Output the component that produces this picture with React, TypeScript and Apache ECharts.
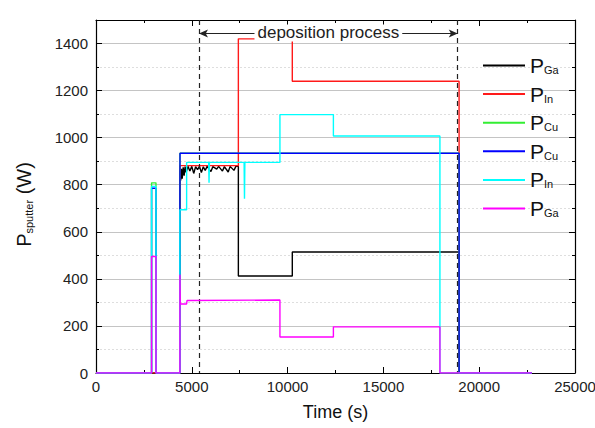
import React, { useEffect, useRef } from 'react';
import * as echarts from 'echarts';

const FONT = '"Liberation Sans", Arial, sans-serif';

// [time (s), power (W)]
const pGaBlack: number[][] = [
  [0, 0], [4380, 0], [4380, 860], [4420, 818], [4460, 868], [4500, 826], [4550, 874], [4600, 838],
  [4650, 877], [4700, 852], [4800, 878], [4900, 858], [5000, 878], [5100, 848], [5200, 877],
  [5300, 864], [5400, 878], [5500, 852], [5600, 876], [5700, 861], [5800, 878], [6000, 856],
  [6100, 877], [6300, 866], [6400, 878], [6600, 858], [6700, 877], [6900, 854], [7000, 878],
  [7200, 861], [7300, 878], [7430, 878], [7430, 412], [10245, 412], [10245, 514],
  [18950, 514], [18950, 0], [22750, 0],
];
const pInRed: number[][] = [
  [0, 0], [4380, 0], [4380, 881], [7430, 881], [7430, 1420], [10245, 1420], [10245, 1240],
  [18950, 1240], [18950, 0], [22750, 0],
];
const pCuGreen: number[][] = [
  [0, 0], [2900, 0], [2900, 808], [3130, 808], [3130, 0], [4380, 0], [4380, 934],
  [18950, 934], [18950, 0], [22750, 0],
];
const pCuBlue: number[][] = [
  [0, 0], [2900, 0], [2900, 785], [3130, 785], [3130, 0], [4380, 0], [4380, 745], [4385, 745],
  [4385, 934], [18950, 934], [18950, 0], [22750, 0],
];
const pInCyan: number[][] = [
  [0, 0], [2900, 0], [2900, 793], [3130, 793], [3130, 0], [4380, 0], [4380, 694], [4730, 694],
  [4730, 895], [5880, 895], [5900, 808], [5920, 895], [7730, 895], [7750, 740], [7770, 895],
  [9600, 895], [9600, 1098], [12390, 1098], [12390, 1007], [17950, 1007], [17950, 0], [22750, 0],
];
const pGaMagenta: number[][] = [
  [0, 0], [2900, 0], [2900, 495], [3130, 495], [3130, 0], [4380, 0], [4380, 418], [4400, 293],
  [4730, 293], [4750, 308], [9600, 310], [9600, 153], [12390, 153], [12390, 196],
  [17950, 196], [17950, 0], [22750, 0],
];

const seriesNames = ['Ga1', 'In1', 'Cu1', 'Cu2', 'In2', 'Ga2'];
const seriesSubs = ['Ga', 'In', 'Cu', 'Cu', 'In', 'Ga'];
const seriesColors = ['#000000', '#ff1a1a', '#33ee33', '#0000ff', '#00ffff', '#ff00ff'];
const seriesData = [pGaBlack, pInRed, pCuGreen, pCuBlue, pInCyan, pGaMagenta];

const depositionStart = 5375;
const depositionEnd = 18880;
const arrowLevel = 1443;
const depositionLabel = 'deposition process';

export default function App() {
  const ref = useRef<HTMLDivElement>(null);
  useEffect(() => {
    if (!ref.current) return;
    const chart = echarts.init(ref.current, null, { renderer: 'svg' });
    const axisCommon = {
      type: 'value' as const,
      axisLine: { show: true, onZero: false, lineStyle: { color: '#000', width: 1.2 } },
      axisTick: { show: true, inside: true, length: 6, lineStyle: { color: '#000' } },
      minorTick: { show: true, splitNumber: 2, length: 3, lineStyle: { color: '#000' } },
    };
    const dashStyle = { type: [5, 4], color: '#222', width: 1.2 };
    const series: any[] = seriesData.map((d, i) => ({
      name: seriesNames[i],
      type: 'line',
      data: d,
      showSymbol: false,
      symbol: 'none',
      lineStyle: { color: seriesColors[i], width: 1.4 },
      itemStyle: { color: seriesColors[i] },
      z: 2 + i,
    }));
    series.push({
      name: 'markers',
      type: 'line',
      data: [],
      clip: false,
      z: 10,
      markLine: {
        silent: true,
        symbol: ['none', 'none'],
        animation: false,
        data: [
          [
            { coord: [depositionStart, 1500], lineStyle: dashStyle },
            { coord: [depositionStart, 0] },
          ],
          [
            { coord: [depositionEnd, 1500], lineStyle: dashStyle },
            { coord: [depositionEnd, 0] },
          ],
          [
            {
              coord: [depositionStart, arrowLevel],
              symbol: 'arrow',
              symbolSize: [6, 9],
              lineStyle: { type: 'solid', color: '#222', width: 1 },
              label: {
                show: true,
                position: 'middle',
                formatter: depositionLabel,
                fontFamily: FONT,
                fontSize: 17,
                color: '#222',
                backgroundColor: '#fff',
                padding: [0, 3, 0, 3],
                distance: -8,
              },
            },
            { coord: [depositionEnd, arrowLevel], symbol: 'arrow', symbolSize: [6, 9] },
          ],
        ],
      },
    });
    const numLabel = (v: number) => (v === 1500 ? '' : String(v));
    chart.setOption({
      animation: false,
      backgroundColor: '#fff',
      grid: { left: 96, right: 20, top: 20, bottom: 55, show: false, outerBoundsMode: 'none', containLabel: false },
      legend: {
        orient: 'vertical',
        left: 478,
        top: 50,
        data: seriesNames,
        icon: 'rect',
        itemWidth: 42,
        itemHeight: 2,
        itemGap: 7.6,
        selectedMode: false,
        formatter: (name: string) => `{p|P}{s|${seriesSubs[seriesNames.indexOf(name)]}}`,
        textStyle: {
          fontFamily: FONT,
          rich: {
            p: { fontSize: 21, fontFamily: FONT, color: '#111', lineHeight: 20 },
            s: { fontSize: 11, fontFamily: FONT, color: '#111', lineHeight: 0.1, verticalAlign: 'bottom' },
          },
        },
      },
      xAxis: [
        {
          ...axisCommon,
          position: 'bottom',
          min: 0,
          max: 25000,
          interval: 5000,
          splitLine: { show: false },
          axisLabel: { fontFamily: FONT, fontSize: 15, color: '#222', margin: 6, formatter: (v: number) => String(v) },
          name: 'Time (s)',
          nameLocation: 'middle',
          nameGap: 30,
          nameTextStyle: { fontFamily: FONT, fontSize: 18, color: '#111' },
        },
        {
          ...axisCommon,
          position: 'top',
          min: 0,
          max: 25000,
          interval: 5000,
          splitLine: { show: false },
          axisLabel: { show: false },
        },
      ],
      yAxis: [
        {
          ...axisCommon,
          position: 'left',
          min: 0,
          max: 1500,
          interval: 200,
          splitLine: { show: true, lineStyle: { color: '#c4c4c4', width: 1.2 } },
          minorSplitLine: { show: true, lineStyle: { color: '#dedede', type: [2, 2], width: 1 } },
          axisLabel: { fontFamily: FONT, fontSize: 15, color: '#222', margin: 8, formatter: numLabel },
          name: '{p|P}{s|sputter}{p| (W)}',
          nameLocation: 'middle',
          nameRotate: 90,
          nameGap: 62,
          nameTextStyle: {
            padding: [0, 16, 0, 0],
            rich: {
              p: { fontSize: 20, fontFamily: FONT, color: '#111', lineHeight: 20 },
              s: { fontSize: 11, fontFamily: FONT, color: '#111', lineHeight: 0.1, verticalAlign: 'bottom' },
            },
          },
        },
        {
          ...axisCommon,
          position: 'right',
          min: 0,
          max: 1500,
          interval: 200,
          splitLine: { show: false },
          axisLabel: { show: false },
        },
      ],
      series,
    });
    return () => chart.dispose();
  }, []);
  return (
    <div
      ref={ref}
      style={{ width: 595, height: 428, position: 'fixed', left: 0, top: 0 }}
    />
  );
}
